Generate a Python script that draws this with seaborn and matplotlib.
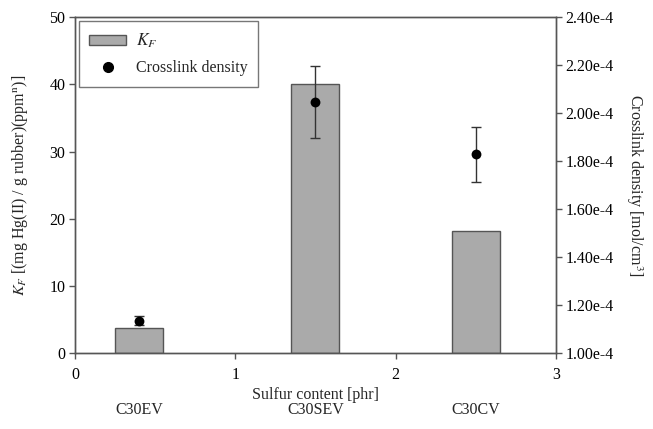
import matplotlib
matplotlib.use("Agg")
import matplotlib.pyplot as plt
import seaborn as sns
import pandas as pd
from matplotlib.patches import Patch
from matplotlib.lines import Line2D

# Data
samples = ["C30EV", "C30SEV", "C30CV"]
sulfur = [0.4, 1.5, 2.5]
kf = [3.8, 40.0, 18.2]
crosslink = [1.136e-4, 2.048e-4, 1.829e-4]
crosslink_err = [0.02e-4, 0.15e-4, 0.115e-4]

sns.set_style("ticks")
plt.rcParams["font.family"] = ["Liberation Serif", "DejaVu Serif"]
plt.rcParams["mathtext.fontset"] = "stix"
FS = 11.5
plt.rcParams["font.size"] = FS

axc = "#555555"
df = pd.DataFrame({"sulfur": sulfur, "kf": kf, "cd": crosslink, "err": crosslink_err, "sample": samples})

fig = plt.figure(figsize=(6.53, 4.29), dpi=100)
ax = fig.add_axes([0.115, 0.1765, 0.736, 0.7835])

sns.barplot(data=df, x="sulfur", y="kf", native_scale=True, width=0.3,
            color="#aaaaaa", edgecolor="#555555", linewidth=1.0, saturation=1, ax=ax, zorder=2)
ax.set_xlim(0, 3)
ax.set_ylim(0, 50)
ax.set_xticks([0, 1, 2, 3])
ax.set_xticklabels(["0", "1", "2", "3"])
ax.set_yticks([0, 10, 20, 30, 40, 50])
ax.set_xlabel("Sulfur content [phr]", fontsize=FS, labelpad=3)
ax.set_ylabel(r"$K_F$ [(mg Hg(II) / g rubber)(ppm$^{\mathrm{n}}$)]", fontsize=FS, labelpad=14)

ax2 = ax.twinx()
ax2.errorbar(df["sulfur"], df["cd"], yerr=df["err"], fmt="none", ecolor="#333333",
             elinewidth=1.0, capsize=3.6, capthick=1.0, zorder=3)
sns.scatterplot(data=df, x="sulfur", y="cd", color="black", s=50, edgecolor="black",
                linewidth=0, ax=ax2, zorder=4, legend=False)
ax2.set_ylim(1.0e-4, 2.4e-4)
ticks = [1.0e-4, 1.2e-4, 1.4e-4, 1.6e-4, 1.8e-4, 2.0e-4, 2.2e-4, 2.4e-4]
ax2.set_yticks(ticks)
ax2.set_yticklabels([f"{t*1e4:.2f}e-4" for t in ticks])
ax2.set_ylabel(r"Crosslink density [mol/cm$^3$]", fontsize=FS, rotation=270, labelpad=22)
ax2.set_xlim(0, 3)

for a in (ax, ax2):
    for s in a.spines.values():
        s.set_visible(True)
        s.set_color(axc)
        s.set_linewidth(1.0)
    a.tick_params(colors="black", length=4, width=1.0, direction="out", labelsize=FS, pad=3)
    a.tick_params(axis="both", color=axc)
ax.tick_params(axis="x", pad=6)

# sample names beneath the axis
for x, name in zip(sulfur, samples):
    ax.annotate(name, xy=(x, 0), xycoords=("data", "axes fraction"),
                xytext=(0, -41), textcoords="offset points", ha="center", va="center", fontsize=FS)

handles = [Patch(facecolor="#aaaaaa", edgecolor="#555555", label=r"$K_F$"),
           Line2D([], [], marker="o", color="black", linestyle="none", markersize=7, label="Crosslink density")]
leg = ax2.legend(handles=handles, loc="upper left", bbox_to_anchor=(0.008, 0.988), borderaxespad=0,
                 frameon=True, fancybox=False, edgecolor=axc, fontsize=11.5, handlelength=2.3,
                 handleheight=0.6, borderpad=0.65, labelspacing=0.65, handletextpad=0.6)
leg.get_frame().set_linewidth(1.0)
leg.get_texts()[0].set_fontsize(12.5)

fig.savefig("out.png", dpi=100)
